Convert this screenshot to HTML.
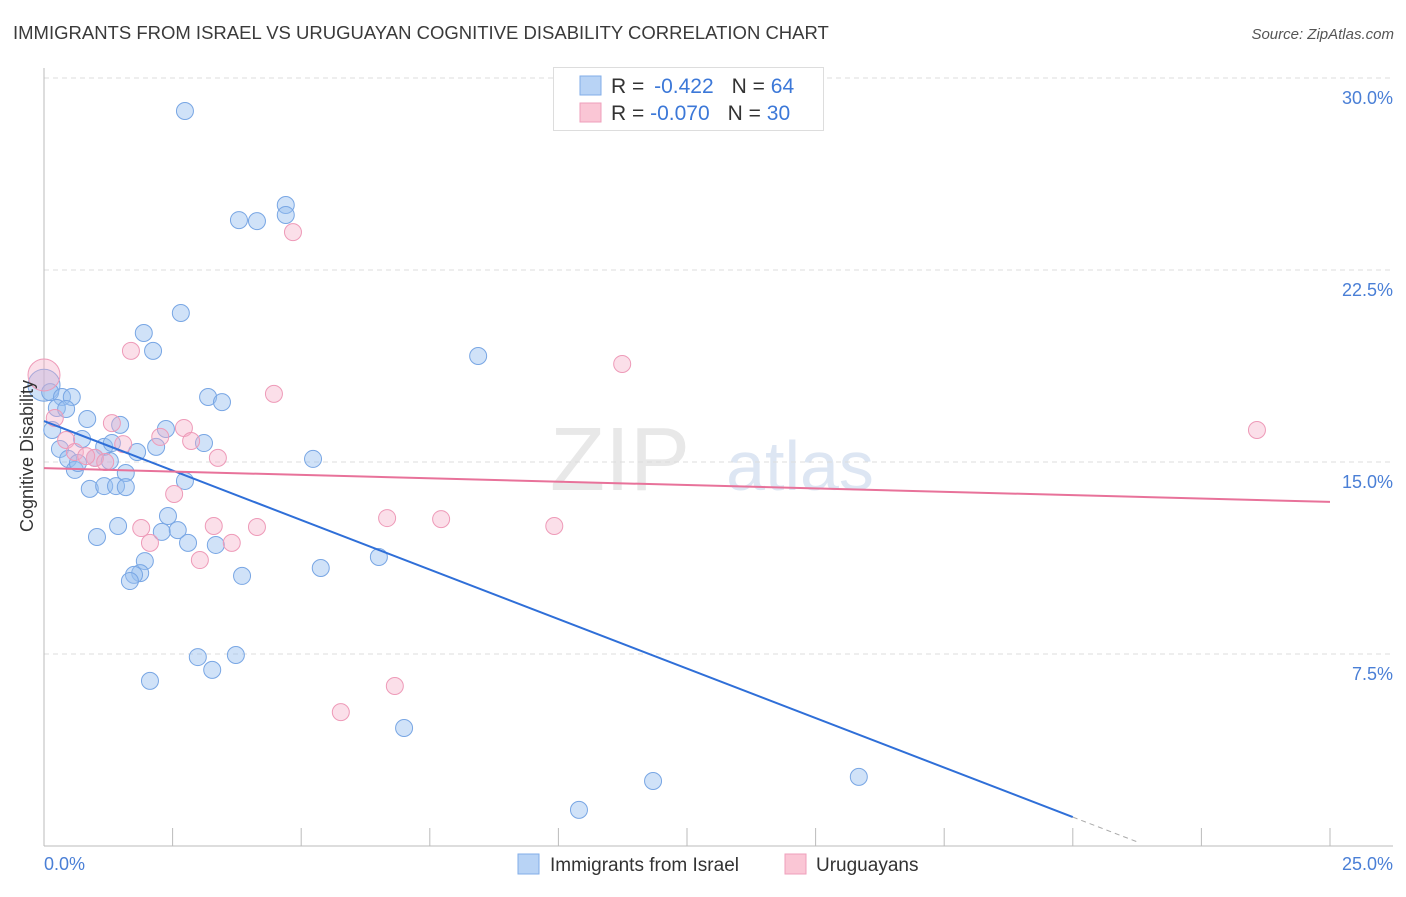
<!DOCTYPE html>
<html><head><meta charset="utf-8"><style>
body{margin:0;background:#fff;font-family:"Liberation Sans",sans-serif;}
svg text{font-family:"Liberation Sans",sans-serif;}
</style></head><body>
<svg id="chart" width="1406" height="892">
<text x="13" y="39" font-size="18.5" fill="#3a3a3a">IMMIGRANTS FROM ISRAEL VS URUGUAYAN COGNITIVE DISABILITY CORRELATION CHART</text>
<text x="1394" y="39" font-size="15" fill="#555" text-anchor="end" font-style="italic">Source: ZipAtlas.com</text>
<text x="620" y="490" font-size="90" fill="#e8e8e8" font-family="Liberation Serif" text-anchor="middle">ZIP</text>
<text x="800" y="490" font-size="70" fill="#dde6f3" text-anchor="middle">atlas</text>
<g id="grid"></g>
<g id="axes"></g>
<g id="pts"></g>
<g id="lines"></g>
<text transform="translate(33,456) rotate(-90)" font-size="18" fill="#333" text-anchor="middle">Cognitive Disability</text>
<g>
<rect x="553.5" y="67.5" width="270" height="63" fill="#fff" stroke="#ddd"/>
<rect x="580" y="76" width="21" height="19" fill="#b8d3f5" stroke="#82aee8"/>
<rect x="580" y="103" width="21" height="19" fill="#fac6d5" stroke="#ef9fbb"/>
<text x="611" y="93" font-size="21" fill="#333">R = <tspan fill="#3c78d8" dx="4">-0.422</tspan><tspan dx="18">N = </tspan><tspan fill="#3c78d8">64</tspan></text>
<text x="611" y="120" font-size="21" fill="#333">R = <tspan fill="#3c78d8">-0.070</tspan><tspan dx="18">N = </tspan><tspan fill="#3c78d8">30</tspan></text>
</g>
<g>
<rect x="518" y="854" width="21" height="20" fill="#b8d3f5" stroke="#82aee8"/>
<text x="550" y="871" font-size="19" fill="#333">Immigrants from Israel</text>
<rect x="785" y="854" width="21" height="20" fill="#fac6d5" stroke="#ef9fbb"/>
<text x="816" y="871" font-size="19" fill="#333">Uruguayans</text>
</g>
</svg>
<script>
const blueX=[2.74,3.79,4.14,4.70,4.70,2.66,1.94,2.12,8.44,3.19,3.46,0.0,0.12,0.35,0.54,0.25,0.43,0.84,1.48,2.37,0.16,0.31,0.74,1.17,1.32,2.18,3.11,1.81,0.47,0.99,1.28,0.60,0.66,1.59,2.74,0.89,1.17,1.40,1.59,5.23,2.41,1.44,2.29,2.60,1.03,2.80,3.34,1.96,1.87,1.75,1.67,3.85,5.38,6.51,2.99,3.73,3.27,2.06,7.00,11.84,15.84,10.40];
const blueY=[28.71,24.45,24.41,25.04,24.65,20.82,20.04,19.34,19.14,17.54,17.34,18.0,17.73,17.54,17.54,17.11,17.07,16.68,16.45,16.29,16.25,15.51,15.90,15.59,15.74,15.59,15.74,15.39,15.12,15.16,15.04,14.69,14.96,14.57,14.26,13.95,14.06,14.06,14.02,15.12,12.89,12.50,12.27,12.34,12.07,11.84,11.76,11.13,10.66,10.59,10.35,10.55,10.86,11.29,7.38,7.46,6.88,6.45,4.61,2.54,2.70,1.41];
const pinkX=[0,0.21,0.43,0.60,0.99,0.82,1.19,1.32,1.54,1.69,1.89,2.06,2.26,2.53,2.72,2.86,3.03,3.30,3.38,3.65,4.14,4.47,4.84,5.77,6.67,6.82,7.72,9.92,11.24,23.58];
const pinkY=[18.4,16.72,15.86,15.39,15.16,15.23,15.00,16.52,15.70,19.34,12.42,11.84,15.98,13.75,16.33,15.82,11.17,12.50,15.16,11.84,12.46,17.66,23.98,5.23,12.81,6.25,12.77,12.50,18.83,16.25];
const yTicks=[7.5,15,22.5,30];
const yTickLabels=["7.5%","15.0%","22.5%","30.0%"];
const xTicks=[0,2.5,5,7.5,10,12.5,15,17.5,20,22.5,25];
const blueLine=[16.6,1.13,20.0,21.3];
const pinkLine=[14.76,13.44];
const NS="http://www.w3.org/2000/svg";
const X=v=>44+v*51.44, Y=v=>846-v*25.6;
function mk(tag,a,p){const e=document.createElementNS(NS,tag);for(const k in a)e.setAttribute(k,a[k]);document.getElementById(p).appendChild(e);return e;}
yTicks.forEach((t,i)=>{
 const l=mk('line',{x1:44,x2:1393,y1:Y(t),y2:Y(t),stroke:'#ddd','stroke-dasharray':'5,4'},'grid');
 
 
 const tx=mk('text',{x:1393,y:Y(t)+26,'font-size':18,fill:'#4a7fd6','text-anchor':'end'},'axes');
 tx.textContent=yTickLabels[i];
 
 
});
const ax=mk('line',{x1:44,x2:1393,y1:846,y2:846,stroke:'#bbb'},'axes');


const ay=mk('line',{x1:44,x2:44,y1:68,y2:846,stroke:'#bbb'},'axes');


xTicks.forEach(t=>{
 const l=mk('line',{x1:X(t),x2:X(t),y1:828,y2:846,stroke:'#bbb'},'axes');
 
 
});
const xl0=mk('text',{x:44,y:870,'font-size':18,fill:'#4a7fd6'},'axes');xl0.textContent='0.0%';


const xl1=mk('text',{x:1393,y:870,'font-size':18,fill:'#4a7fd6','text-anchor':'end'},'axes');xl1.textContent='25.0%';


blueX.forEach((v,i)=>{
 const c=mk('circle',{cx:X(v),cy:Y(blueY[i]),r:i==11?16:8.5,fill:'rgba(150,190,240,0.45)',stroke:'#78a6e4','stroke-width':1},'pts');
 
 
});
pinkX.forEach((v,i)=>{
 const c=mk('circle',{cx:X(v),cy:Y(pinkY[i]),r:i==0?16:8.5,fill:'rgba(245,175,200,0.4)',stroke:'#ee9ab8','stroke-width':1},'pts');
 
 
});
const slope=(blueLine[1]-blueLine[0])/blueLine[2];
const bl=mk('line',{x1:X(0),y1:Y(blueLine[0]),x2:X(blueLine[2]),y2:Y(blueLine[1]),stroke:'#2f6fd8','stroke-width':2},'lines');


const bd=mk('line',{x1:X(blueLine[2]),y1:Y(blueLine[1]),x2:X(blueLine[3]),y2:Y(blueLine[0]+slope*blueLine[3]),stroke:'#aaa','stroke-width':1,'stroke-dasharray':'5,4'},'lines');


const pl=mk('line',{x1:X(0),y1:Y(pinkLine[0]),x2:X(25),y2:Y(pinkLine[1]),stroke:'#e8729a','stroke-width':2},'lines');


</script>
</body></html>
